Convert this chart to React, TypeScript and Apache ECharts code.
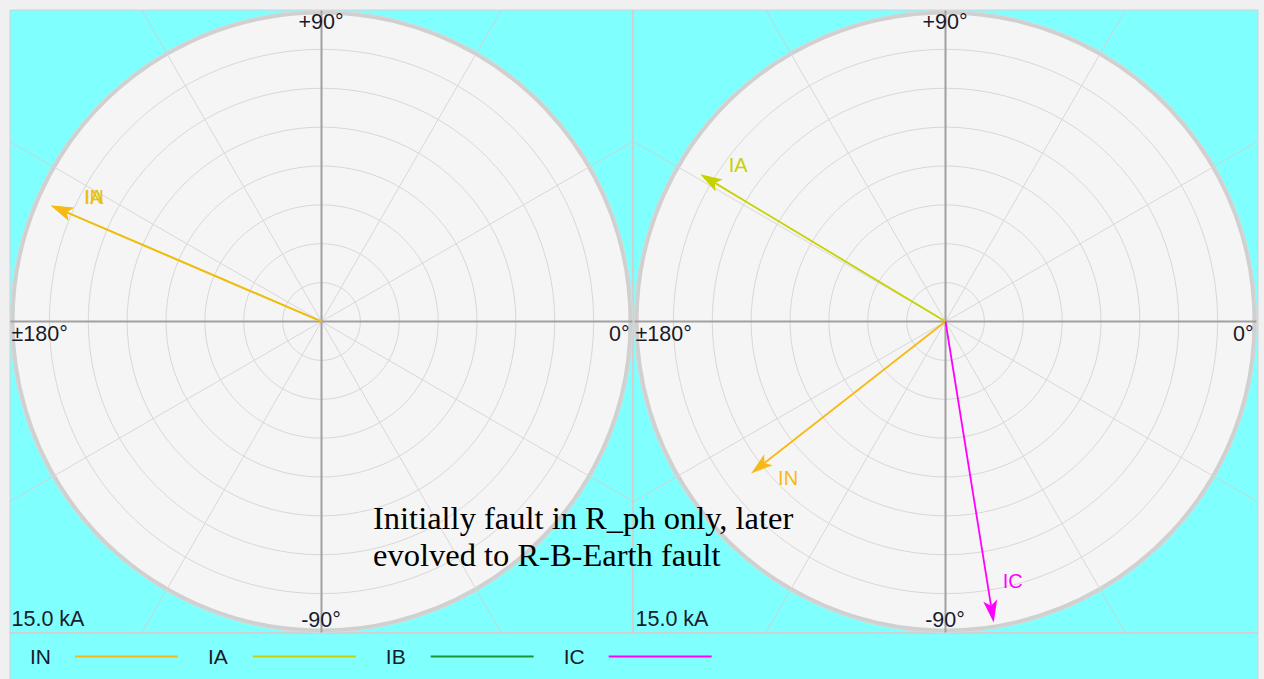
import React, { useEffect, useRef } from 'react';
import * as echarts from 'echarts';

// ---- data ----
const phaseNames = ['IN', 'IA', 'IB', 'IC'];
const scaleMaxKA = 15;
const ringCount = 8;
const scaleLabel = '15.0 kA';
const angleLabelTop = '+90°';
const angleLabelBottom = '-90°';
const angleLabelLeft = '±180°';
const angleLabelRight = '0°';

// left plot: magnitude (kA) and angle (deg) per phase, order IN, IA, IB, IC
const leftMagnitudes = [14.2, 14.2, 0, 0];
const leftAngles = [156.8, 156.8, 0, 0];
// right plot
const rightMagnitudes = [11.9, 13.8, 0, 14.7];
const rightAngles = [-142.0, 149.0, 0, -80.9];

const annotationLines = ['Initially fault in R_ph only, later', 'evolved to R-B-Earth fault'];

// ---- styles ----
const phaseColors = ['#f7b915', '#c8d200', '#1a9632', '#ff00ff'];
const legendTextPadRight = [19, 20, 20, 19];
const leftLabelOffsets = [[43, -9], [43, -9], [0, 0], [0, 0]];
const rightLabelOffsets = [[37, 5], [38, -9], [0, 0], [19, -41]];
const panelCenters = [[321.5, 321.5], [945.5, 321.5]];
const R = 311;
const sansFont = '"Liberation Sans", Arial, sans-serif';

function makeRenderItem(color: string, label: string, offset: number[]) {
  return (params: any, api: any) => {
    const r = api.value(0);
    const a = api.value(1);
    if (!(r > 0)) return null;
    const tip = api.coord([r, a]);
    const base = api.coord([0, a]);
    const dx = tip[0] - base[0];
    const dy = tip[1] - base[1];
    const len = Math.hypot(dx, dy);
    const ux = dx / len, uy = dy / len;
    const nx = -uy, ny = ux;
    const L = 22, W = 7, N = 5;
    const bx = tip[0] - ux * L, by = tip[1] - uy * L;
    const notch = [tip[0] - ux * (L - N), tip[1] - uy * (L - N)];
    return {
      type: 'group',
      children: [
        { type: 'line', shape: { x1: base[0], y1: base[1], x2: notch[0], y2: notch[1] }, style: { stroke: color, lineWidth: 1.8 } },
        { type: 'polygon', shape: { points: [tip, [bx + nx * W, by + ny * W], notch, [bx - nx * W, by - ny * W]] }, style: { fill: color } },
        {
          type: 'text', x: tip[0] + offset[0], y: tip[1] + offset[1],
          style: { text: label, fill: color, font: '20px ' + sansFont, align: 'center', verticalAlign: 'middle', textAlign: 'center', textVerticalAlign: 'middle' },
        },
      ],
    };
  };
}

export default function App() {
  const ref = useRef<HTMLDivElement>(null);
  useEffect(() => {
    if (!ref.current) return;
    const chart = echarts.init(ref.current, undefined, { renderer: 'svg' });

    const graphic: any[] = [];
    graphic.push({ type: 'rect', z: -20, shape: { x: 10, y: 10, width: 1248, height: 675 }, style: { fill: '#80ffff', stroke: '#d2d2d2', lineWidth: 1 } });
    panelCenters.forEach(([cx, cy]) => {
      [30, 60, 120, 150, 210, 240, 300, 330].forEach((deg) => {
        const t = (deg * Math.PI) / 180;
        const c = Math.cos(t), s = Math.sin(t);
        const ext = R / Math.max(Math.abs(c), Math.abs(s));
        graphic.push({ type: 'line', z: -15, shape: { x1: cx, y1: cy, x2: cx + ext * c, y2: cy - ext * s }, style: { stroke: '#c8d4d4', lineWidth: 1 } });
      });
      graphic.push({ type: 'circle', z: -10, shape: { cx, cy, r: R - 2 }, style: { fill: '#f5f5f5', stroke: '#d0d0d0', lineWidth: 4 } });
    });
    graphic.push({ type: 'line', z: -5, shape: { x1: 633, y1: 10, x2: 633, y2: 633 }, style: { stroke: '#d0d0d0', lineWidth: 2 } });
    graphic.push({ type: 'line', z: -5, shape: { x1: 10, y1: 633, x2: 1258, y2: 633 }, style: { stroke: '#d0d0d0', lineWidth: 2 } });
    panelCenters.forEach(([cx, cy]) => {
      graphic.push({ type: 'line', z: 1, shape: { x1: cx - R, y1: cy, x2: cx + R, y2: cy }, style: { stroke: '#a0a0a0', lineWidth: 2 } });
      graphic.push({ type: 'line', z: 1, shape: { x1: cx, y1: cy - R, x2: cx, y2: cy + R }, style: { stroke: '#a0a0a0', lineWidth: 2 } });
      const ts = { fill: '#1a1a2a', font: '21.5px ' + sansFont };
      graphic.push({ type: 'text', z: 10, x: cx - 0.5, y: 22, style: { ...ts, text: angleLabelTop, textAlign: 'center', textVerticalAlign: 'middle' } });
      graphic.push({ type: 'text', z: 10, x: cx - 0.5, y: 620, style: { ...ts, text: angleLabelBottom, textAlign: 'center', textVerticalAlign: 'middle' } });
      graphic.push({ type: 'text', z: 10, x: cx - R + 1, y: 334, style: { ...ts, text: angleLabelLeft, textAlign: 'left', textVerticalAlign: 'middle' } });
      graphic.push({ type: 'text', z: 10, x: cx + R - 3, y: 334, style: { ...ts, text: angleLabelRight, textAlign: 'right', textVerticalAlign: 'middle' } });
      graphic.push({ type: 'text', z: 10, x: cx - R + 1, y: 619, style: { ...ts, text: scaleLabel, textAlign: 'left', textVerticalAlign: 'middle' } });
    });
    annotationLines.forEach((line, i) => {
      graphic.push({ type: 'text', z: 10, x: 373, y: 518 + i * 37, style: { text: line, fill: '#000000', font: '32.5px "Liberation Serif", "Times New Roman", serif', textAlign: 'left', textVerticalAlign: 'middle' } });
    });

    const panels = [
      { mags: leftMagnitudes, angs: leftAngles, offs: leftLabelOffsets },
      { mags: rightMagnitudes, angs: rightAngles, offs: rightLabelOffsets },
    ];
    const drawOrder = [1, 0, 2, 3]; // IA beneath IN
    const series: any[] = [];
    panels.forEach((p, pi) => {
      drawOrder.forEach((k) => {
        series.push({
          type: 'custom',
          name: phaseNames[k],
          coordinateSystem: 'polar',
          polarIndex: pi,
          itemStyle: { color: phaseColors[k] },
          data: [[p.mags[k], p.angs[k]]],
          renderItem: makeRenderItem(phaseColors[k], phaseNames[k], p.offs[k]),
          clip: false,
        });
      });
    });

    chart.setOption({
      animation: false,
      backgroundColor: '#f0f0f0',
      polar: panelCenters.map((c) => ({ center: c, radius: R })),
      angleAxis: panelCenters.map((_, i) => ({
        polarIndex: i, type: 'value', min: -180, max: 180, interval: 30, startAngle: 180, clockwise: false,
        axisLine: { show: false }, axisTick: { show: false }, axisLabel: { show: false },
        splitLine: { show: true, lineStyle: { color: '#d8d8d8', width: 1 } },
      })),
      radiusAxis: panelCenters.map((_, i) => ({
        polarIndex: i, type: 'value', min: 0, max: scaleMaxKA, interval: scaleMaxKA / ringCount,
        axisLine: { show: false }, axisTick: { show: false }, axisLabel: { show: false },
        splitLine: { show: true, lineStyle: { color: '#d8d8d8', width: 1 } },
      })),
      legend: {
        left: 30, top: 646, padding: 0, align: 'right', itemGap: 30, itemWidth: 103, itemHeight: 2, selectedMode: false,
        textStyle: { fontSize: 21, color: '#1a1a2a', fontFamily: sansFont },
        data: phaseNames.map((n, i) => ({
          name: n, icon: 'rect', itemStyle: { color: phaseColors[i] },
          textStyle: { fontSize: 21, color: '#1a1a2a', fontFamily: sansFont, padding: [0, legendTextPadRight[i], 0, 0] },
        })),
      },
      graphic,
      series,
    });
    return () => chart.dispose();
  }, []);
  return <div ref={ref} style={{ position: 'absolute', left: 0, top: 0, width: 1264, height: 679 }} />;
}
